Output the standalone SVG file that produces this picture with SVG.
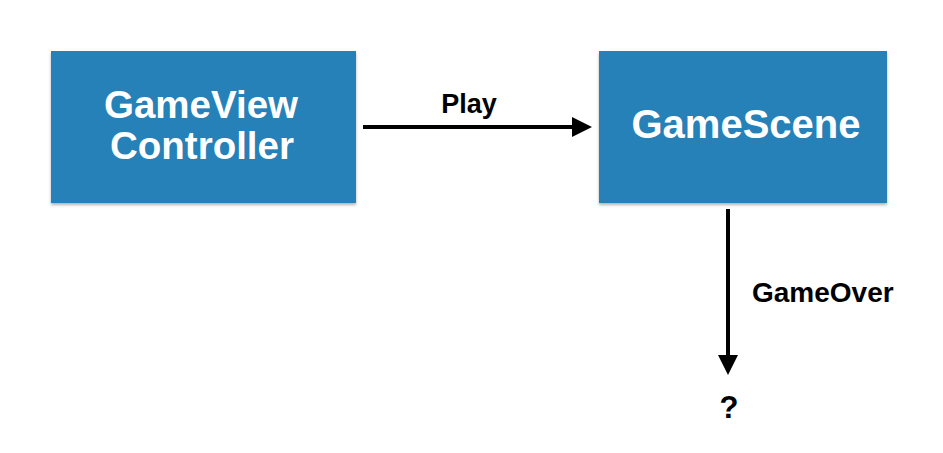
<svg xmlns="http://www.w3.org/2000/svg" width="943" height="453" viewBox="0 0 943 453">
  <defs>
    <filter id="shadow" x="-5%" y="-5%" width="110%" height="115%">
      <feDropShadow dx="0" dy="2" stdDeviation="1.5" flood-color="#000" flood-opacity="0.3"/>
    </filter>
    <marker id="arrow" markerWidth="5" markerHeight="5" refX="0" refY="2.5" orient="auto" markerUnits="strokeWidth">
      <path d="M0,0 L5,2.5 L0,5 Z" fill="#000"/>
    </marker>
  </defs>
  <style>
    .box { fill: #2581b8; filter: url(#shadow); }
    .boxtext { font-family: "Liberation Sans", Arial, sans-serif; font-weight: bold; fill: #fff; text-anchor: middle; }
    .label { font-family: "Liberation Sans", Arial, sans-serif; font-weight: bold; fill: #000; }
    .conn { stroke: #000; stroke-width: 4; fill: none; marker-end: url(#arrow); }
  </style>
  <rect width="943" height="453" fill="#fff"/>
  <g id="gameviewcontroller">
    <rect class="box" x="51" y="51" width="305" height="152"/>
    <text class="boxtext" x="201" y="118" font-size="38.5">GameView</text>
    <text class="boxtext" x="202" y="159" font-size="38.5">Controller</text>
  </g>
  <g id="gamescene">
    <rect class="box" x="599" y="51" width="288" height="152"/>
    <text class="boxtext" x="746" y="138" font-size="40">GameScene</text>
  </g>
  <g id="unknown">
    <text class="label" x="729" y="418" font-size="31" text-anchor="middle">?</text>
  </g>
  <g id="connectors">
    <line class="conn" x1="363" y1="127" x2="572" y2="127"/>
    <text class="label" x="469" y="113" font-size="27" text-anchor="middle">Play</text>
    <line class="conn" x1="728" y1="209" x2="728" y2="355"/>
    <text class="label" x="752" y="302" font-size="28">GameOver</text>
  </g>
</svg>
